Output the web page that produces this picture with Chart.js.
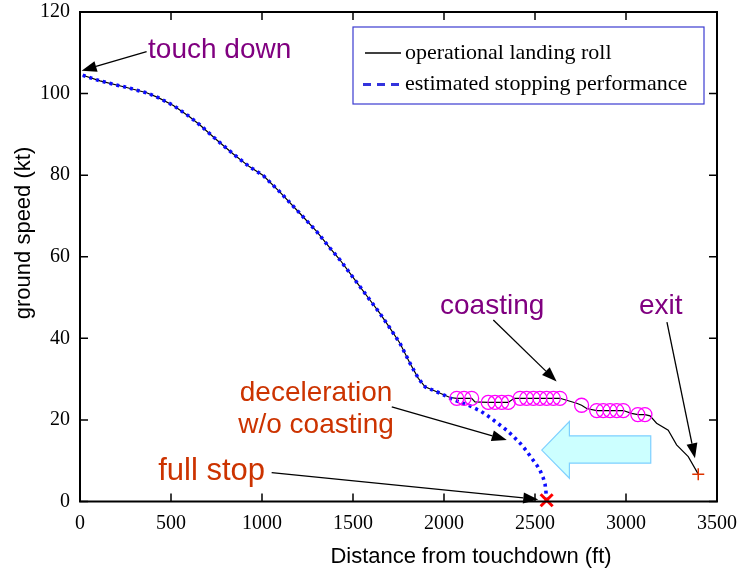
<!DOCTYPE html>
<html>
<head>
<meta charset="utf-8">
<script src="https://cdn.jsdelivr.net/npm/chart.js@4.4.1/dist/chart.umd.min.js"></script>
<style>
  html, body { margin: 0; padding: 0; background: #ffffff; }
  #wrap { width: 740px; height: 571px; }
</style>
</head>
<body>
<div id="wrap"><canvas id="c" width="740" height="571"></canvas></div>
<script>
// ---------------- data ----------------
const xTickValues = [0, 500, 1000, 1500, 2000, 2500, 3000, 3500];
const yTickValues = [0, 20, 40, 60, 80, 100, 120];

// operational landing roll (ft, kt)
const opDist  = [15,110,256,366,430,513,600,659,750,842,930,1007,1100,1209,1300,1374,1429,1484,1538,1593,1648,1703,1758,1813,1859,1896,1960,2033,2070,2110,2152,2170,2243,2280,2317,2353,2385,2418,2454,2491,2527,2564,2601,2637,2729,2756,2784,2839,2875,2912,2949,2985,3030,3065,3104,3132,3168,3232,3278,3342,3397];
const opSpeed = [104.5,103.1,101.5,100.2,99.0,97.1,94.4,92.3,88.7,85.2,82.1,79.9,75.8,70.6,66.2,62.1,59.2,55.9,52.7,49.4,46.1,42.5,38.8,33.9,30.2,28.1,26.9,25.5,25.3,25.3,25.3,24.4,24.3,24.3,24.3,24.3,25.3,25.3,25.3,25.3,25.3,25.3,25.3,25.3,24.1,23.6,22.8,22.3,22.3,22.3,22.3,22.3,21.6,21.3,21.3,21.0,19.2,17.5,13.9,11.0,6.7];

// estimated stopping performance (ft, kt)
const estDist  = [15,110,256,366,430,513,600,659,750,842,930,1007,1100,1209,1300,1374,1429,1484,1538,1593,1648,1703,1758,1813,1859,1896,1960,2000,2040,2080,2134,2200,2253,2300,2344,2380,2418,2450,2482,2510,2527,2545,2555,2560,2563];
const estSpeed = [104.5,103.1,101.5,100.2,99.0,97.1,94.4,92.3,88.7,85.2,82.1,79.9,75.8,70.6,66.2,62.1,59.2,55.9,52.7,49.4,46.1,42.5,38.8,33.9,30.2,28.1,26.9,26.1,25.2,24.5,23.6,22.2,20.6,19.0,17.5,16.0,14.3,12.6,10.6,8.9,7.7,5.8,4.3,2.5,0.5];

// coasting samples (circles)
const coastDist  = [2070,2110,2152,2243,2280,2317,2353,2418,2454,2491,2527,2564,2601,2637,2756,2839,2875,2912,2949,2985,3065,3104];
const coastSpeed = [25.3,25.3,25.3,24.3,24.3,24.3,24.3,25.3,25.3,25.3,25.3,25.3,25.3,25.3,23.6,22.3,22.3,22.3,22.3,22.3,21.3,21.3];

// single events
const stopDist = [2564], stopSpeed = [0.3];
const exitDist = [3397], exitSpeed = [6.7];

const seriesNames = ['operational landing roll', 'estimated stopping performance'];
const axisTitles = { x: 'Distance from touchdown (ft)', y: 'ground speed (kt)' };

// annotation texts (anchor in data units)
const labels = [
  { text: 'touch down', x: 374, y: 108.7, color: '#800080', size: 28, align: 'left' },
  { text: 'coasting', x: 1978, y: 46.0, color: '#800080', size: 28, align: 'left' },
  { text: 'exit', x: 3071, y: 46.0, color: '#800080', size: 28, align: 'left' },
  { text: 'deceleration', x: 1297, y: 24.7, color: '#cc3300', size: 28, align: 'center' },
  { text: 'w/o coasting', x: 1297, y: 16.7, color: '#cc3300', size: 28, align: 'center' },
  { text: 'full stop', x: 430, y: 5.3, color: '#cc3300', size: 31, align: 'left' }
];
// annotation arrows: tail -> tip, data units
const arrows = [
  { x0: 366, y0: 110.3, x1: 9, y1: 105.6 },
  { x0: 2271, y0: 44.5, x1: 2619, y1: 29.4 },
  { x0: 3225, y0: 44.0, x1: 3379, y1: 10.6 },
  { x0: 1713, y0: 23.2, x1: 2345, y1: 15.1 },
  { x0: 1053, y0: 7.1, x1: 2518, y1: 0.5 }
];
// big cyan arrow (data units)
const bigArrow = { tipX: 2537, tipY: 12.6, headX: 2689, headTop: 19.6, headBottom: 5.7, shaftTop: 16.1, shaftBottom: 9.4, tailX: 3136 };

const zip = (xs, ys) => xs.map((x, i) => ({ x: x, y: ys[i] }));

// ---------------- plugins ----------------
const decor = {
  id: 'decor',
  beforeDatasetsDraw(chart) {
    const { ctx, scales: { x, y } } = chart;
    const a = bigArrow;
    ctx.save();
    ctx.beginPath();
    ctx.moveTo(x.getPixelForValue(a.tipX), y.getPixelForValue(a.tipY));
    ctx.lineTo(x.getPixelForValue(a.headX), y.getPixelForValue(a.headTop));
    ctx.lineTo(x.getPixelForValue(a.headX), y.getPixelForValue(a.shaftTop));
    ctx.lineTo(x.getPixelForValue(a.tailX), y.getPixelForValue(a.shaftTop));
    ctx.lineTo(x.getPixelForValue(a.tailX), y.getPixelForValue(a.shaftBottom));
    ctx.lineTo(x.getPixelForValue(a.headX), y.getPixelForValue(a.shaftBottom));
    ctx.lineTo(x.getPixelForValue(a.headX), y.getPixelForValue(a.headBottom));
    ctx.closePath();
    ctx.fillStyle = '#ccffff';
    ctx.fill();
    ctx.strokeStyle = '#7fd0ff';
    ctx.lineWidth = 1.2;
    ctx.stroke();
    ctx.restore();
  },
  afterDraw(chart) {
    const { ctx, chartArea: ca, scales: { x, y } } = chart;
    ctx.save();
    // frame
    ctx.strokeStyle = '#000';
    ctx.lineWidth = 2;
    ctx.strokeRect(ca.left, ca.top, ca.right - ca.left, ca.bottom - ca.top);
    // inward ticks on all four sides
    ctx.lineWidth = 1.5;
    ctx.beginPath();
    x.ticks.forEach(t => {
      const px = x.getPixelForValue(t.value);
      ctx.moveTo(px, ca.bottom); ctx.lineTo(px, ca.bottom - 8);
      ctx.moveTo(px, ca.top); ctx.lineTo(px, ca.top + 8);
    });
    y.ticks.forEach(t => {
      const py = y.getPixelForValue(t.value);
      ctx.moveTo(ca.left, py); ctx.lineTo(ca.left + 8, py);
      ctx.moveTo(ca.right, py); ctx.lineTo(ca.right - 8, py);
    });
    ctx.stroke();

    // arrows
    ctx.strokeStyle = '#000';
    ctx.fillStyle = '#000';
    arrows.forEach(ar => {
      const x0 = x.getPixelForValue(ar.x0), y0 = y.getPixelForValue(ar.y0);
      const x1 = x.getPixelForValue(ar.x1), y1 = y.getPixelForValue(ar.y1);
      const ang = Math.atan2(y1 - y0, x1 - x0);
      const L = 15, W = 5.5;
      const bx = x1 - L * Math.cos(ang), by = y1 - L * Math.sin(ang);
      ctx.lineWidth = 1.3;
      ctx.beginPath(); ctx.moveTo(x0, y0); ctx.lineTo(bx, by); ctx.stroke();
      ctx.beginPath();
      ctx.moveTo(x1, y1);
      ctx.lineTo(bx + W * Math.sin(ang), by - W * Math.cos(ang));
      ctx.lineTo(bx - W * Math.sin(ang), by + W * Math.cos(ang));
      ctx.closePath(); ctx.fill();
    });

    // annotation texts
    ctx.textBaseline = 'alphabetic';
    labels.forEach(l => {
      ctx.font = l.size + 'px "Liberation Sans", Arial, sans-serif';
      ctx.fillStyle = l.color;
      ctx.textAlign = l.align;
      ctx.fillText(l.text, x.getPixelForValue(l.x), y.getPixelForValue(l.y));
    });

    // legend box
    const lx = ca.left + 273, ly = ca.top + 15, lw = 351, lh = 77;
    ctx.fillStyle = '#fff';
    ctx.fillRect(lx, ly, lw, lh);
    ctx.strokeStyle = '#3b3bd0';
    ctx.lineWidth = 1.2;
    ctx.strokeRect(lx, ly, lw, lh);
    const r1 = ly + 26, r2 = ly + 57.5;
    ctx.strokeStyle = '#000'; ctx.lineWidth = 1.3;
    ctx.beginPath(); ctx.moveTo(lx + 12, r1); ctx.lineTo(lx + 48, r1); ctx.stroke();
    ctx.strokeStyle = '#3333dd'; ctx.lineWidth = 3.2;
    ctx.setLineDash([8, 6]);
    ctx.beginPath(); ctx.moveTo(lx + 10, r2); ctx.lineTo(lx + 50, r2); ctx.stroke();
    ctx.setLineDash([]);
    ctx.fillStyle = '#000';
    ctx.font = '22px "Liberation Serif", "Times New Roman", serif';
    ctx.textAlign = 'left';
    ctx.textBaseline = 'middle';
    ctx.fillText(seriesNames[0], lx + 52, r1);
    ctx.fillText(seriesNames[1], lx + 52, r2);

    // axis titles
    ctx.font = '22px "Liberation Sans", Arial, sans-serif';
    ctx.fillStyle = '#000';
    ctx.textAlign = 'center';
    ctx.textBaseline = 'alphabetic';
    ctx.fillText(axisTitles.x, ca.left + 391, ca.bottom + 61.5);
    ctx.save();
    ctx.translate(ca.left - 56, ca.top + 221);
    ctx.rotate(-Math.PI / 2);
    ctx.textBaseline = 'middle';
    ctx.fillText(axisTitles.y, 0, 0);
    ctx.restore();
    ctx.restore();
  }
};

const noPad = s => { s.paddingTop = 0; s.paddingBottom = 0; s.paddingLeft = 0; s.paddingRight = 0; };

// ---------------- chart ----------------
new Chart(document.getElementById('c'), {
  type: 'line',
  data: {
    datasets: [
      {
        label: seriesNames[1],
        data: zip(estDist, estSpeed),
        borderColor: '#0d0dff',
        borderWidth: 3.6,
        borderDash: [3, 4],
        borderCapStyle: 'butt',
        pointRadius: 0,
        tension: 0,
        fill: false,
        order: 1
      },
      {
        label: seriesNames[0],
        data: zip(opDist, opSpeed),
        borderColor: '#000000',
        borderWidth: 1.2,
        pointRadius: 0,
        tension: 0,
        fill: false,
        order: 2
      },
      {
        label: 'coasting',
        data: zip(coastDist, coastSpeed),
        showLine: false,
        pointStyle: 'circle',
        pointRadius: 7,
        pointBorderWidth: 1.3,
        pointBorderColor: '#ff00ff',
        pointBackgroundColor: 'rgba(0,0,0,0)',
        order: 0
      },
      {
        label: 'full stop',
        data: zip(stopDist, stopSpeed),
        showLine: false,
        pointStyle: 'crossRot',
        pointRadius: 8.5,
        pointBorderWidth: 3,
        pointBorderColor: '#ff0000',
        clip: false,
        order: 0
      },
      {
        label: 'exit',
        data: zip(exitDist, exitSpeed),
        showLine: false,
        pointStyle: 'cross',
        pointRadius: 6,
        pointBorderWidth: 1.5,
        pointBorderColor: '#dd3300',
        clip: false,
        order: 0
      }
    ]
  },
  options: {
    responsive: false,
    devicePixelRatio: 1,
    animation: false,
    layout: { padding: { left: 0, right: 23, top: 12, bottom: 0 } },
    plugins: {
      legend: { display: false },
      tooltip: { enabled: false }
    },
    scales: {
      x: {
        type: 'linear',
        min: xTickValues[0],
        max: xTickValues[xTickValues.length - 1],
        afterBuildTicks: s => { s.ticks = xTickValues.map(v => ({ value: v })); },
        afterFit: s => { s.height = 69.5; noPad(s); },
        grid: { display: false, drawTicks: false },
        border: { display: false },
        ticks: {
          padding: 10,
          color: '#000',
          maxRotation: 0,
          autoSkip: false,
          callback: v => String(v),
          font: { family: '"Liberation Serif", "Times New Roman", serif', size: 20 }
        },
        title: { display: false }
      },
      y: {
        type: 'linear',
        min: yTickValues[0],
        max: yTickValues[yTickValues.length - 1],
        afterBuildTicks: s => { s.ticks = yTickValues.map(v => ({ value: v })); },
        afterFit: s => { s.width = 80; noPad(s); },
        grid: { display: false, drawTicks: false },
        border: { display: false },
        ticks: {
          padding: 10,
          color: '#000',
          autoSkip: false,
          callback: v => String(v),
          font: { family: '"Liberation Serif", "Times New Roman", serif', size: 20 }
        },
        title: { display: false }
      }
    }
  },
  plugins: [decor]
});
</script>
</body>
</html>
